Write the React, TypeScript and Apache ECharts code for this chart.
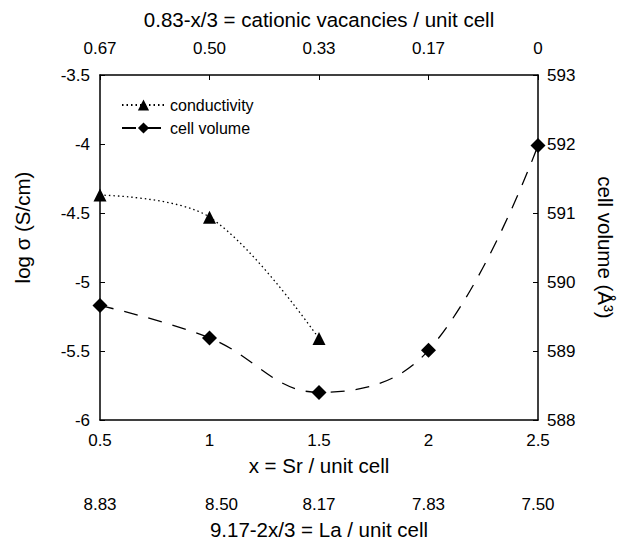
import React, { useEffect, useRef } from "react";
import * as echarts from "echarts";

const xSr = [0.5, 1, 1.5, 2, 2.5];
const condX = [0.5, 1, 1.5];
const condY = [-4.37, -4.53, -5.41];
const volY = [589.66, 589.19, 588.4, 589.01, 591.98];
const topLabels = ["0.67", "0.50", "0.33", "0.17", "0"];
const laLabels = ["8.83", "8.50", "8.17", "7.83", "7.50"];

const FONT = "'Liberation Sans', Arial, sans-serif";
const TICK = 17;
const TITLE = 20.5;

export default function App() {
  const ref = useRef<HTMLDivElement>(null);
  useEffect(() => {
    if (!ref.current) return;
    const chart = echarts.init(ref.current, undefined, { renderer: "svg" });
    const idx = (v: number) => Math.round((v - 0.5) / 0.5);
    const axisCommon = {
      type: "value" as const,
      min: 0.5,
      max: 2.5,
      interval: 0.5,
      splitLine: { show: false },
    };
    const tickText = { fontSize: TICK, color: "#000", fontFamily: FONT };
    const titleText = { fontSize: TITLE, color: "#000", fontFamily: FONT };
    chart.setOption({
      animation: false,
      textStyle: { fontFamily: FONT, color: "#000" },
      grid: { left: 100, right: 89, top: 75, bottom: 119, containLabel: false },
      legend: {
        left: 116,
        top: 92,
        orient: "vertical",
        itemWidth: 43,
        itemHeight: 14,
        itemGap: 7,
        textStyle: { fontSize: 16, color: "#000", fontFamily: FONT },
        data: ["conductivity", "cell volume"],
      },
      xAxis: [
        {
          ...axisCommon,
          position: "bottom",
          axisLine: { show: true, lineStyle: { color: "#000", width: 1.5 } },
          axisTick: { show: false },
          axisLabel: { ...tickText, margin: 12, formatter: (v: number) => String(v) },
          name: "x = Sr / unit cell",
          nameLocation: "middle",
          nameGap: 35,
          nameTextStyle: titleText,
        },
        {
          ...axisCommon,
          position: "top",
          axisLine: { show: true, lineStyle: { color: "#000", width: 1.5 } },
          axisTick: { show: true, inside: true, length: 5, lineStyle: { color: "#000" } },
          axisLabel: { ...tickText, margin: 18, formatter: (v: number) => topLabels[idx(v)] },
          name: "0.83-x/3 = cationic vacancies / unit cell",
          nameLocation: "middle",
          nameGap: 45,
          nameTextStyle: titleText,
        },
        {
          ...axisCommon,
          position: "bottom",
          offset: 63,
          axisLine: { show: false },
          axisTick: { show: false },
          axisLabel: {
            ...tickText,
            margin: 13,
            formatter: (v: number) => (idx(v) === 1 ? "{s|" + laLabels[idx(v)] + "}" : laLabels[idx(v)]),
            rich: { s: { ...tickText, padding: [0, 0, 0, 24] } },
          },
          name: "9.17-2x/3 = La / unit cell",
          nameLocation: "middle",
          nameGap: 36,
          nameTextStyle: titleText,
        },
      ],
      yAxis: [
        {
          type: "value",
          position: "left",
          min: -6,
          max: -3.5,
          interval: 0.5,
          splitLine: { show: false },
          axisLine: { show: true, lineStyle: { color: "#000", width: 1.5 } },
          axisTick: { show: true, inside: true, length: 5, lineStyle: { color: "#000" } },
          axisLabel: { ...tickText, margin: 10 },
          name: "log σ (S/cm)",
          nameLocation: "middle",
          nameGap: 67,
          nameRotate: 90,
          nameTextStyle: { ...titleText, padding: [0, 0, 0, 40] },
        },
        {
          type: "value",
          position: "right",
          min: 588,
          max: 593,
          interval: 1,
          splitLine: { show: false },
          axisLine: { show: true, lineStyle: { color: "#000", width: 1.5 } },
          axisTick: { show: true, inside: true, length: 5, lineStyle: { color: "#000" } },
          axisLabel: { ...tickText, margin: 9 },
          name: "cell volume (Å³)",
          nameLocation: "middle",
          nameGap: 57,
          nameRotate: -90,
          nameTextStyle: titleText,
        },
      ],
      series: [
        {
          name: "conductivity",
          type: "line",
          xAxisIndex: 0,
          yAxisIndex: 0,
          data: condX.map((x, i) => [x, condY[i]]),
          smooth: 0.35,
          symbol: "triangle",
          symbolSize: 13,
          itemStyle: { color: "#000" },
          lineStyle: { color: "#000", width: 1.3, type: [1.5, 3] },
          z: 3,
        },
        {
          name: "cell volume",
          type: "line",
          xAxisIndex: 0,
          yAxisIndex: 1,
          data: xSr.map((x, i) => [x, volY[i]]),
          smooth: 0.4,
          symbol: "diamond",
          symbolSize: 15,
          itemStyle: { color: "#000" },
          lineStyle: { color: "#000", width: 1.3, type: [14, 11] },
          z: 3,
        },
      ],
    });
    return () => chart.dispose();
  }, []);
  return <div ref={ref} style={{ width: 627, height: 545, position: "absolute", left: 0, top: 0 }} />;
}
